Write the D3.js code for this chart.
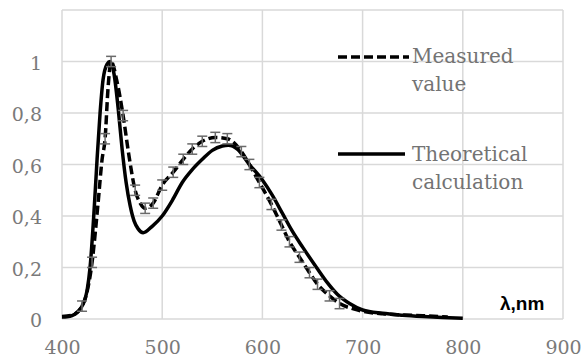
<!DOCTYPE html>
<html>
<head>
<meta charset="utf-8">
<script src="https://d3js.org/d3.v7.min.js"></script>
<style>
  body { margin: 0; background: #fff; }
  .axis text { font-family: "DejaVu Serif", serif; fill: #7a7a7a; }
  .legend text { font-family: "DejaVu Serif", serif; fill: #737373; font-size: 20px; }
</style>
</head>
<body>
<div id="chart"></div>
<script>
// wavelength (nm) / relative intensity
var theoryNm  = [400, 405, 410, 415, 420, 425, 428, 432, 435, 438, 441, 445, 448, 452, 456, 460, 464, 468, 472, 476, 481, 490, 500, 510, 520, 530, 540, 550, 560, 566, 575, 587, 600, 610, 620, 630, 640, 654, 665, 675, 687, 700, 720, 740, 760, 780, 800];
var theoryVal = [0.008, 0.009, 0.013, 0.025, 0.05, 0.11, 0.2, 0.42, 0.62, 0.8, 0.93, 0.99, 1.0, 0.95, 0.82, 0.66, 0.53, 0.44, 0.38, 0.35, 0.335, 0.36, 0.4, 0.46, 0.53, 0.58, 0.62, 0.655, 0.672, 0.675, 0.66, 0.6, 0.54, 0.48, 0.41, 0.34, 0.28, 0.2, 0.14, 0.095, 0.06, 0.035, 0.022, 0.015, 0.01, 0.006, 0.003];

var measNm  = [400, 410, 420, 430, 436, 440, 443, 446, 449, 455, 461, 467, 473, 478, 483, 491, 500, 511, 521, 530, 540, 553, 565, 579, 587, 597, 609, 619, 627, 637, 647, 655, 667, 677, 690, 700, 720, 740, 760, 785];
var measVal = [0.01, 0.015, 0.05, 0.22, 0.45, 0.62, 0.7, 0.9, 1.0, 0.92, 0.79, 0.63, 0.5, 0.45, 0.43, 0.45, 0.52, 0.57, 0.62, 0.66, 0.69, 0.705, 0.7, 0.65, 0.6, 0.53, 0.445, 0.365, 0.3, 0.24, 0.18, 0.135, 0.09, 0.06, 0.04, 0.03, 0.02, 0.016, 0.013, 0.008];
var measErr = [0, 0, 0.02, 0.02, 0, 0, 0.02, 0, 0.02, 0, 0.02, 0, 0.02, 0, 0.02, 0.02, 0.02, 0.02, 0.02, 0.02, 0.02, 0.02, 0.02, 0.02, 0.02, 0.02, 0.02, 0.02, 0.02, 0.02, 0.02, 0.02, 0.02, 0.02, 0, 0, 0, 0, 0, 0];

var xTicks = [400, 500, 600, 700, 800, 900];
var yTicks = [0, 0.2, 0.4, 0.6, 0.8, 1, 1.2];
var yTickLabels = ["0", "0,2", "0,4", "0,6", "0,8", "1", ""];

var legendLabels = [["Measured", "value"], ["Theoretical", "calculation"]];
var unitLabel = "λ,nm";

var width = 586, height = 361;
var margin = {top: 10, right: 23, bottom: 42, left: 62};

var svg = d3.select('#chart').append('svg')
  .attr('width', width)
  .attr('height', height);

var x = d3.scaleLinear().domain([400, 900]).range([margin.left, width - margin.right]);
var y = d3.scaleLinear().domain([0, 1.2]).range([height - margin.bottom, margin.top]);

// grid
var grid = svg.append('g');
grid.selectAll('line.h').data(yTicks).enter().append('line')
  .attr('x1', x(400)).attr('x2', x(900))
  .attr('y1', function(d) { return y(d); }).attr('y2', function(d) { return y(d); })
  .attr('stroke', '#d9d9d9').attr('stroke-width', 1.5);
grid.selectAll('line.v').data(xTicks).enter().append('line')
  .attr('y1', y(0)).attr('y2', y(1.2))
  .attr('x1', function(d) { return x(d); }).attr('x2', function(d) { return x(d); })
  .attr('stroke', '#d9d9d9').attr('stroke-width', 1.5);

// axes labels
var xAxis = d3.axisBottom(x).tickValues(xTicks).tickSize(0).tickPadding(22);
svg.append('g').attr('class', 'axis')
  .attr('transform', 'translate(0,' + y(0) + ')')
  .call(xAxis)
  .call(function(g) { g.select('.domain').remove(); })
  .selectAll('text').style('font-size', '19px');

var yAxis = d3.axisLeft(y).tickValues(yTicks).tickSize(0).tickPadding(20)
  .tickFormat(function(d, i) { return yTickLabels[i]; });
svg.append('g').attr('class', 'axis')
  .attr('transform', 'translate(' + x(400) + ',0)')
  .call(yAxis)
  .call(function(g) { g.select('.domain').remove(); })
  .selectAll('text').style('font-size', '19px').attr('dy', '0.4em');

var line = d3.line()
  .x(function(d) { return x(d[0]); })
  .y(function(d) { return y(d[1]); })
  .curve(d3.curveMonotoneX);

var theory = d3.zip(theoryNm, theoryVal);
var meas = d3.zip(measNm, measVal, measErr);

svg.append('path').datum(theory)
  .attr('d', line)
  .attr('fill', 'none').attr('stroke', '#000').attr('stroke-width', 3.5);

svg.append('path').datum(meas)
  .attr('d', line)
  .attr('fill', 'none').attr('stroke', '#000').attr('stroke-width', 3.5)
  .attr('stroke-dasharray', '9,4');

// error bars
var bars = svg.append('g').selectAll('g')
  .data(meas.filter(function(d) { return d[2] > 0; }))
  .enter().append('g')
  .attr('stroke', '#6a6a6a').attr('stroke-width', 1.5);
bars.append('line')
  .attr('x1', function(d) { return x(d[0]); }).attr('x2', function(d) { return x(d[0]); })
  .attr('y1', function(d) { return y(d[1] - d[2]); }).attr('y2', function(d) { return y(d[1] + d[2]); });
bars.append('line')
  .attr('x1', function(d) { return x(d[0]) - 5; }).attr('x2', function(d) { return x(d[0]) + 5; })
  .attr('y1', function(d) { return y(d[1] + d[2]); }).attr('y2', function(d) { return y(d[1] + d[2]); });
bars.append('line')
  .attr('x1', function(d) { return x(d[0]) - 5; }).attr('x2', function(d) { return x(d[0]) + 5; })
  .attr('y1', function(d) { return y(d[1] - d[2]); }).attr('y2', function(d) { return y(d[1] - d[2]); });

// legend
var legend = svg.append('g').attr('class', 'legend');
legend.append('line')
  .attr('x1', 338).attr('x2', 409).attr('y1', 57).attr('y2', 57)
  .attr('stroke', '#000').attr('stroke-width', 3.5).attr('stroke-dasharray', '9,4');
legend.append('line')
  .attr('x1', 338).attr('x2', 405).attr('y1', 154).attr('y2', 154)
  .attr('stroke', '#000').attr('stroke-width', 3.5);
legendLabels.forEach(function(lines, i) {
  var t = legend.append('text').attr('x', 412).attr('y', i === 0 ? 63 : 161);
  lines.forEach(function(s, j) {
    t.append('tspan').attr('x', 412).attr('dy', j === 0 ? 0 : 28).text(s);
  });
});

svg.append('text')
  .attr('x', 500).attr('y', 310)
  .style('font-family', '"Liberation Sans", Arial, sans-serif')
  .style('font-weight', 'bold')
  .style('font-size', '19px')
  .attr('fill', '#000')
  .text(unitLabel);
</script>
</body>
</html>
